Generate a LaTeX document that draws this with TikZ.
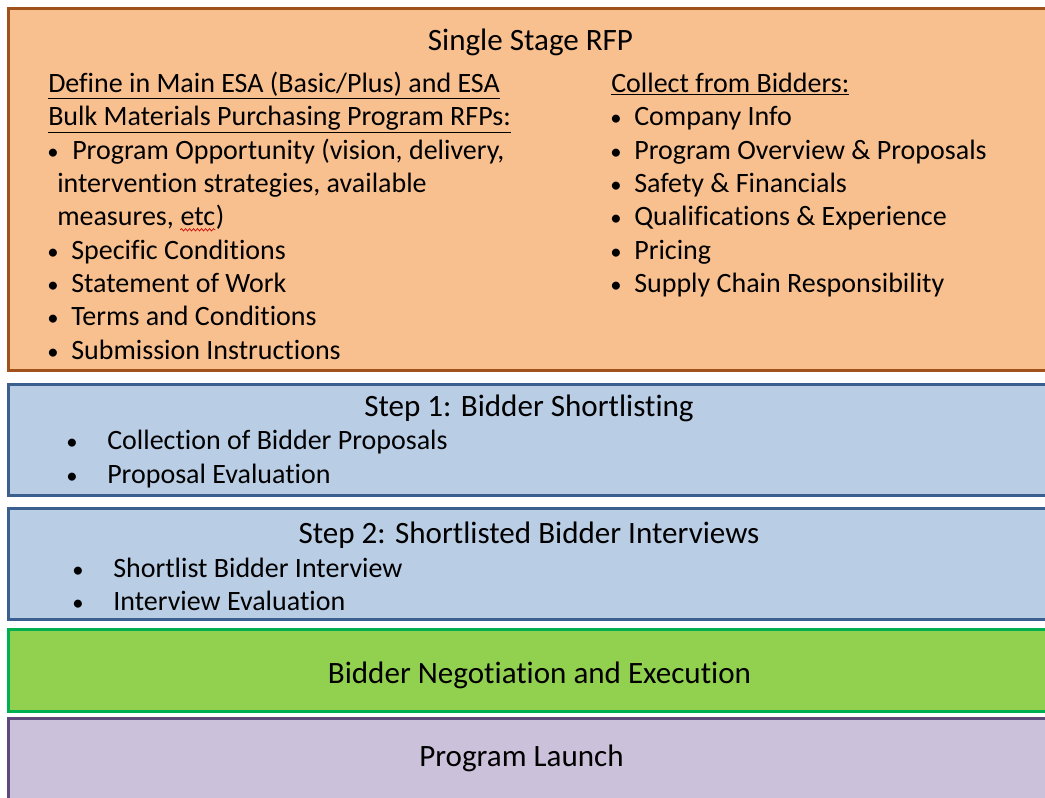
\documentclass[tikz,border=0pt]{standalone}
\usepackage{fontspec}
\setmainfont{Carlito}[Ligatures=NoCommon]
\usetikzlibrary{decorations.pathmorphing}
\definecolor{orfill}{HTML}{F9C08F}
\definecolor{ordraw}{HTML}{A0521A}
\definecolor{blfill}{HTML}{B9CDE5}
\definecolor{bldraw}{HTML}{3B5F8F}
\definecolor{grfill}{HTML}{92D050}
\definecolor{grdraw}{HTML}{00B050}
\definecolor{pufill}{HTML}{CCC1DA}
\definecolor{pudraw}{HTML}{5F497A}
\begin{document}
\begin{tikzpicture}[x=0.75pt,y=-0.75pt,
  panel/.style={line width=2.25pt},
  body/.style={anchor=base west, inner sep=0pt, font=\fontsize{21}{25}\selectfont},
  bul/.style={anchor=base, inner sep=0pt, font=\fontsize{17}{20}\selectfont},
  ttl/.style={anchor=base, inner sep=0pt, font=\fontsize{23.3}{28}\selectfont}]
\useasboundingbox (0,0) rectangle (1045,797);
\clip (0,0) rectangle (1045,797);
% panels
\draw[panel, fill=orfill, draw=ordraw] (8,8) rectangle (1060,370);
\draw[panel, fill=blfill, draw=bldraw] (8,384) rectangle (1060,495);
\draw[panel, fill=blfill, draw=bldraw] (8,508) rectangle (1060,619);
\draw[panel, fill=grfill, draw=grdraw] (8,629) rectangle (1060,711);
\draw[panel, fill=pufill, draw=pudraw] (8,718) rectangle (1060,820);
% top panel
\node[ttl] (t0) at (530.5,50.5) {Single Stage RFP};
\node[body] (l1) at (48,92.5) {\underline{Define in Main ESA (Basic/Plus) and ESA}};
\node[body] (l2) at (48,125.8) {\underline{Bulk Materials Purchasing Program RFPs:}};
\node[bul] (b3) at (53,159) {•};
\node[body] (l3) at (72,159) {Program Opportunity (vision, delivery,};
\node[body] (l4) at (57,192.5) {intervention strategies, available};
\node[body] (l5) at (57,225.8) {measures,};
\node[body] (etc) at ([xshift=4.6pt]l5.base east) {etc};
\node[body] (l5b) at (etc.base east) {)};
\draw[red!80!black, line width=0.5pt, decorate, decoration={snake, amplitude=0.9pt, segment length=3pt}]
  ([yshift=-3pt]etc.base west) -- ([yshift=-3pt]etc.base east);
\node[bul] (b6) at (53,259) {•};
\node[body] (l6) at (71,259) {Specific Conditions};
\node[bul] (b7) at (53,292.5) {•};
\node[body] (l7) at (71,292.5) {Statement of Work};
\node[bul] (b8) at (53,325.8) {•};
\node[body] (l8) at (71,325.8) {Terms and Conditions};
\node[bul] (b9) at (53,359) {•};
\node[body] (l9) at (71,359) {Submission Instructions};
% right column
\node[body] (r1) at (611,92.5) {\underline{Collect from Bidders:}};
\node[bul] (rb2) at (616,125.8) {•};
\node[body] (r2) at (634,125.8) {Company Info};
\node[bul] (rb3) at (616,159) {•};
\node[body] (r3) at (634,159) {Program Overview \& Proposals};
\node[bul] (rb4) at (616,192.5) {•};
\node[body] (r4) at (634,192.5) {Safety \& Financials};
\node[bul] (rb5) at (616,225.8) {•};
\node[body] (r5) at (634,225.8) {Qualifications \& Experience};
\node[bul] (rb6) at (616,259) {•};
\node[body] (r6) at (634,259) {Pricing};
\node[bul] (rb7) at (616,292.5) {•};
\node[body] (r7) at (634,292.5) {Supply Chain Responsibility};
% step 1
\node[ttl] (s1) at (529,416) {Step 1: Bidder Shortlisting};
\node[bul] (s1b1) at (72,449) {•};
\node[body] (s1i1) at (107,449) {Collection of Bidder Proposals};
\node[bul] (s1b2) at (72,483) {•};
\node[body] (s1i2) at (107,483) {Proposal Evaluation};
% step 2
\node[ttl] (s2) at (529,543) {Step 2: Shortlisted Bidder Interviews};
\node[bul] (s2b1) at (78,577) {•};
\node[body] (s2i1) at (113,577) {Shortlist Bidder Interview};
\node[bul] (s2b2) at (78,610) {•};
\node[body] (s2i2) at (113,610) {Interview Evaluation};
% green and purple
\node[ttl] (neg) at (539.5,683) {Bidder Negotiation and Execution};
\node[ttl] (launch) at (521.5,766) {Program Launch};
\end{tikzpicture}
\end{document}
